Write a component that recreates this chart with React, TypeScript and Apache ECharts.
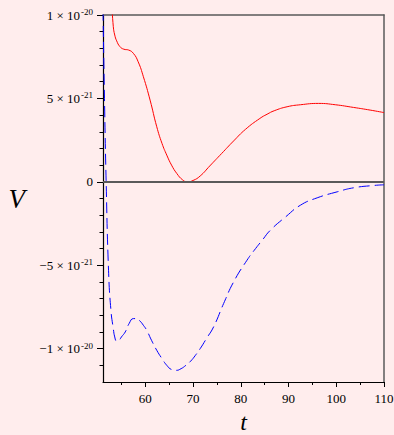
import React, { useEffect, useRef } from "react";
import * as echarts from "echarts";

// Values of V are in units of 1e-21
const RED_T = [53.0, 53.3, 53.6, 54.0, 54.7, 55.5, 56.5, 57.5, 58.5, 59.6, 61.0, 62.4, 63.5, 64.5, 65.5, 66.6, 67.8, 68.8, 70.0, 71.5, 73.5, 76.0, 78.5, 81.0, 84.0, 85.5, 87.0, 89.7, 92.5, 96.3, 99.8, 103.6, 107.1, 110.0];
const RED_V = [10.6, 9.3, 8.8, 8.45, 8.1, 7.95, 7.9, 7.7, 7.2, 6.3, 4.9, 3.3, 2.3, 1.6, 1.0, 0.5, 0.12, 0.0, 0.08, 0.35, 0.95, 1.7, 2.45, 3.15, 3.8, 4.05, 4.26, 4.5, 4.62, 4.7, 4.62, 4.46, 4.3, 4.15];

const BLUE_T = [51.14, 51.45, 51.8, 52.3, 52.8, 53.3, 53.6, 54.0, 54.5, 55.0, 55.8, 56.6, 57.5, 58.2, 58.9, 59.6, 60.3, 61.3, 62.4, 63.5, 64.5, 65.5, 66.5, 67.5, 68.5, 69.5, 70.5, 71.5, 72.8, 74.3, 76.4, 78.5, 81.3, 83.1, 84.5, 86.2, 89.4, 92.5, 96.0, 100.2, 103.6, 107.8, 110.0];
const BLUE_V = [10.3, 5.0, 0.0, -5.3, -7.7, -8.8, -9.3, -9.55, -9.5, -9.3, -9.0, -8.5, -8.2, -8.2, -8.35, -8.6, -8.9, -9.5, -10.1, -10.6, -11.0, -11.25, -11.3, -11.2, -11.0, -10.75, -10.4, -10.0, -9.4, -8.7, -7.3, -6.0, -4.7, -4.0, -3.5, -2.9, -2.1, -1.4, -0.96, -0.6, -0.36, -0.22, -0.18];

const X_MIN = 51.14;
const X_MAX = 110;
const Y_MIN = -12;
const Y_MAX = 10;
const X_MAJOR_TICKS = [60, 70, 80, 90, 100, 110];
const X_MINOR_TICKS = [55, 65, 75, 85, 95, 105];
const Y_MAJOR_TICKS = [-10, -5, 0, 5, 10];
const Y_MINOR_TICKS = [-11, -9, -8, -7, -6, -4, -3, -2, -1, 1, 2, 3, 4, 6, 7, 8, 9];
const Y_LABELS: Record<string, string> = {
  "10": "1 × 10{s|-20}",
  "5": "5 × 10{s|-21}",
  "0": "0",
  "-5": "−5 × 10{s|-21}",
  "-10": "−1 × 10{s|-20}",
};

const FONT = "Liberation Serif";

export default function App() {
  const ref = useRef<HTMLDivElement>(null);
  useEffect(() => {
    if (!ref.current) return;
    const chart = echarts.init(ref.current, null, { renderer: "svg" });
    const zip = (a: number[], b: number[]) => a.map((v, i) => [v, b[i]]);
    const hidden = { show: false };
    chart.setOption({
      animation: false,
      backgroundColor: "#ffeded",
      grid: { left: 103, top: 15, width: 281, height: 367, outerBoundsMode: "none", containLabel: false },
      xAxis: [
        {
          type: "value",
          min: X_MIN,
          max: X_MAX,
          position: "bottom",
          axisLine: { show: true, onZero: false, lineStyle: { color: "#000", width: 1.2 } },
          axisTick: { show: true, customValues: X_MAJOR_TICKS, length: 5, lineStyle: { color: "#000" } },
          axisLabel: {
            customValues: X_MAJOR_TICKS,
            margin: 10,
            fontSize: 13,
            fontFamily: FONT,
            color: "#000",
          },
          splitLine: hidden,
          name: "t",
          nameLocation: "middle",
          nameGap: 28,
          nameTextStyle: { fontSize: 24, lineHeight: 24, fontStyle: "italic", fontFamily: FONT, color: "#000" },
        },
        {
          type: "value",
          min: X_MIN,
          max: X_MAX,
          position: "bottom",
          axisLine: { show: false, onZero: false },
          axisTick: { show: true, customValues: X_MINOR_TICKS, length: 3, lineStyle: { color: "#000" } },
          axisLabel: hidden,
          splitLine: hidden,
        },
        {
          type: "value",
          min: X_MIN,
          max: X_MAX,
          position: "top",
          axisLine: { show: true, onZero: false, lineStyle: { color: "#5a5a5a", width: 1.5 } },
          axisTick: hidden,
          axisLabel: hidden,
          splitLine: hidden,
        },
      ],
      yAxis: [
        {
          type: "value",
          min: Y_MIN,
          max: Y_MAX,
          position: "left",
          axisLine: { show: true, onZero: false, lineStyle: { color: "#000", width: 1.2 } },
          axisTick: { show: true, customValues: Y_MAJOR_TICKS, length: 6, lineStyle: { color: "#000" } },
          axisLabel: {
            customValues: Y_MAJOR_TICKS,
            margin: 10,
            fontSize: 13,
            fontFamily: FONT,
            color: "#000",
            formatter: (v: number) => Y_LABELS[String(v)] ?? "",
            rich: {
              s: { fontSize: 9, fontFamily: FONT, color: "#000", padding: [0, 0, 6, 1] },
            },
          },
          splitLine: hidden,
          name: "V",
          nameLocation: "middle",
          nameRotate: 0,
          nameGap: 78,
          nameTextStyle: { fontSize: 27, fontStyle: "italic", fontFamily: FONT, color: "#000" },
        },
        {
          type: "value",
          min: Y_MIN,
          max: Y_MAX,
          position: "left",
          axisLine: { show: false, onZero: false },
          axisTick: { show: true, customValues: Y_MINOR_TICKS, length: 3.5, lineStyle: { color: "#000" } },
          axisLabel: hidden,
          splitLine: hidden,
        },
        {
          type: "value",
          min: Y_MIN,
          max: Y_MAX,
          position: "right",
          axisLine: { show: true, onZero: false, lineStyle: { color: "#5a5a5a", width: 1.5 } },
          axisTick: hidden,
          axisLabel: hidden,
          splitLine: hidden,
        },
      ],
      series: [
        {
          type: "line",
          data: zip(RED_T, RED_V),
          xAxisIndex: 0,
          yAxisIndex: 0,
          showSymbol: false,
          smooth: 0.5,
          clip: true,
          lineStyle: { color: "#ff0000", width: 1 },
          markLine: {
            silent: true,
            symbol: "none",
            label: hidden,
            lineStyle: { color: "#5a5a5a", width: 1.8, type: "solid" },
            data: [{ yAxis: 0 }],
          },
          z: 3,
        },
        {
          type: "line",
          data: zip(BLUE_T, BLUE_V),
          xAxisIndex: 0,
          yAxisIndex: 0,
          showSymbol: false,
          smooth: 0.5,
          clip: true,
          lineStyle: { color: "#0000ff", width: 1, type: [11, 5] },
          z: 3,
        },
      ],
    });
    return () => chart.dispose();
  }, []);
  return (
    <div
      ref={ref}
      style={{ position: "absolute", left: 0, top: 0, width: 394, height: 435 }}
    />
  );
}
